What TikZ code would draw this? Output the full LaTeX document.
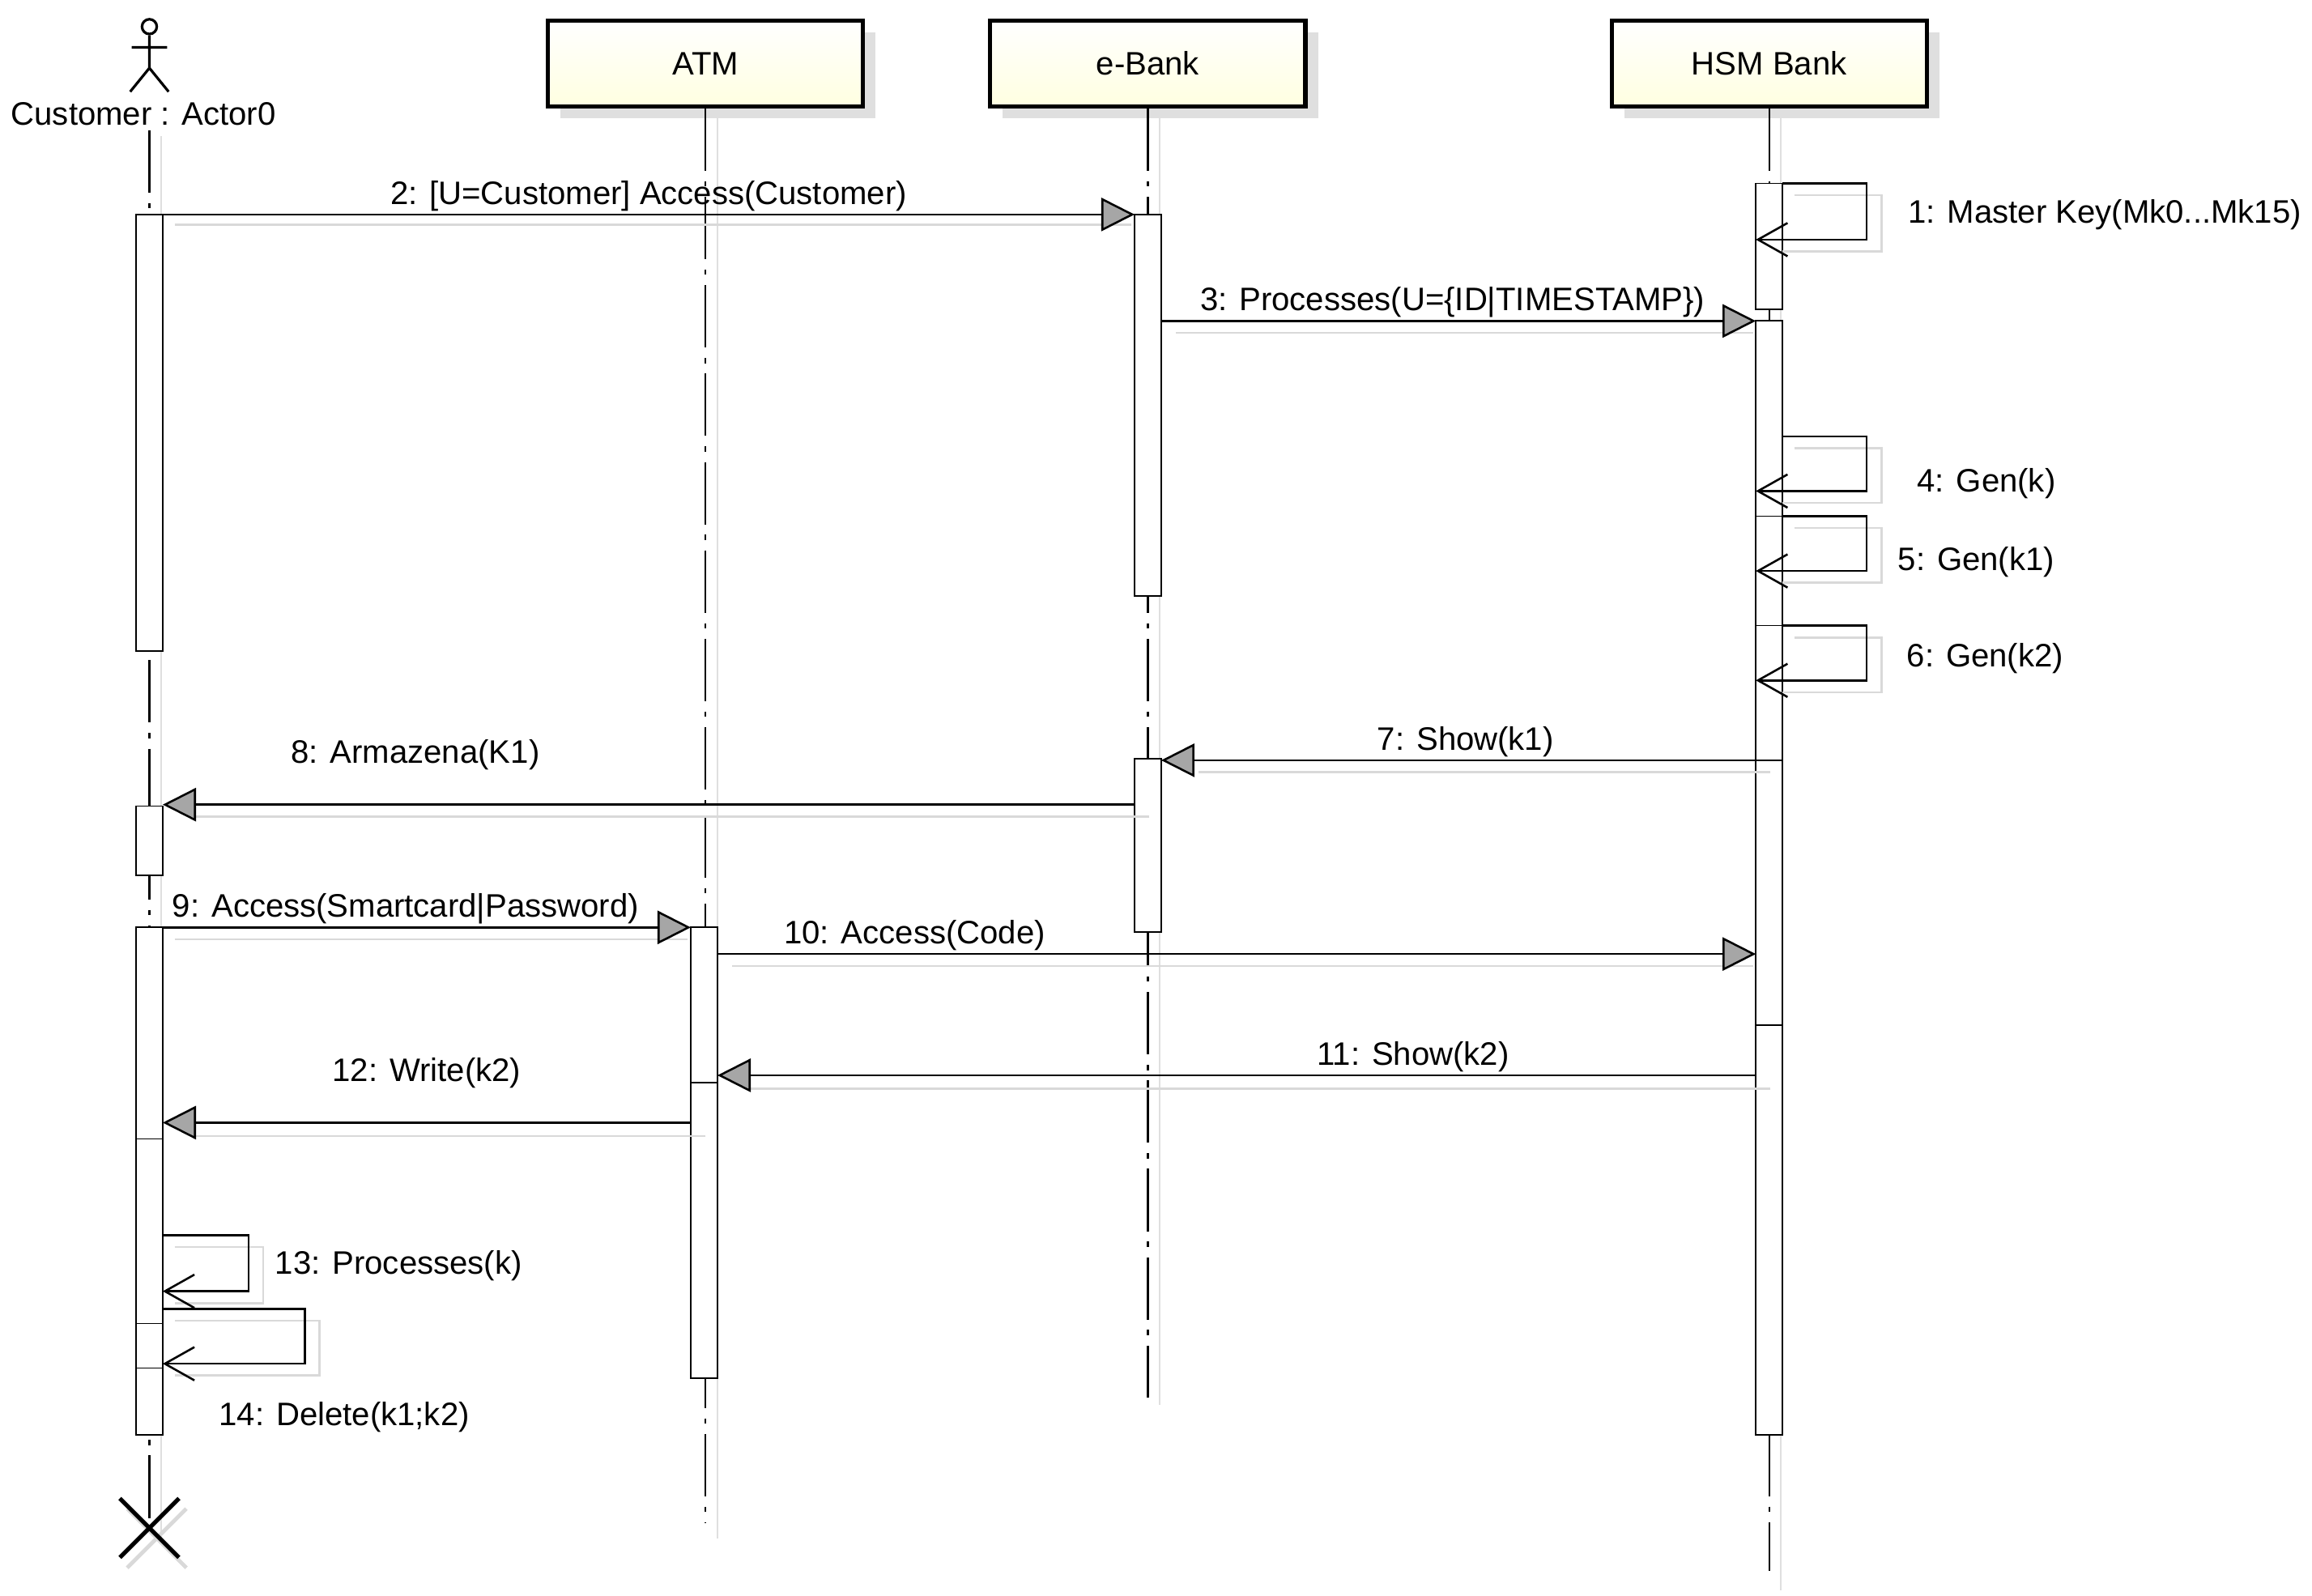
\documentclass[tikz,border=0pt]{standalone}
\usepackage{fontspec}
\setmainfont{Liberation Sans}
\usetikzlibrary{arrows.meta}
\begin{document}
\begin{tikzpicture}[x=0.02cm,y=-0.02cm,
  font=\fontsize{12.5}{14}\selectfont,
  life/.style={dash pattern=on 24pt off 4pt on 2pt off 4pt, line width=0.7pt},
  lifesh/.style={gray!25, line width=0.7pt},
  act/.style={draw, fill=white, line width=0.6pt},
  head/.style={draw, line width=1.6pt, top color=white, bottom color=yellow!12, minimum width=213*0.02cm, minimum height=58*0.02cm},
  msg/.style={line width=0.8pt, -{Triangle[length=0.45cm,width=0.45cm,fill=gray!70]}},
  msgsh/.style={gray!30, line width=0.8pt},
  self/.style={line width=0.8pt, -{Straight Barb[length=0.4cm,width=0.45cm]}},
  lbl/.style={inner sep=1pt}]
\useasboundingbox (0,0) rectangle (1563,1079);
% heads with shadows
\foreach \x/\n/\t in {477/atm/ATM,776/ebank/e-Bank,1196/hsm/HSM Bank}{
  \fill[gray!25] (\x-106+8,22) rectangle (\x+107+8,80);
}
\node[head] (atm) at (477,43) {ATM};
\node[head] (ebank) at (776,43) {e-Bank};
\node[head] (hsm) at (1196,43) {HSM Bank};
% actor
\node[draw, circle, line width=1pt, minimum size=0.2cm, inner sep=0pt] (ahead) at (101,18) {};
\draw[line width=1pt] (ahead.south) -- (101,46) (89,32) -- (113,32) (101,46) -- (88,62) (101,46) -- (114,62);
\node (actor) at (97,77) {Customer : Actor0};
% lifelines
\foreach \x/\a/\b in {109/92/1040, 485/80/1040, 784/80/950, 1204/80/1075}{\draw[lifesh] (\x,\a) -- (\x,\b);}
\coordinate (cend) at (101,1033);
\coordinate (aend) at (477,1030);
\coordinate (eend) at (776,945);
\coordinate (hend) at (1196,1062);
\draw[life] (101,88) -- (cend);
\draw[life] (atm.south) -- (aend);
\draw[life] (ebank.south) -- (eend);
\draw[life] (hsm.south) -- (hend);
% X
\node (xx) at (101,1033) {};
\draw[gray!30, line width=1.5pt] (86,1020) -- (126,1060) (126,1020) -- (86,1060);
\draw[line width=1.6pt] (81,1013) -- (121,1053) (121,1013) -- (81,1053);
% activations
\draw[act] (92,145) rectangle (110,440);
\draw[act] (92,545) rectangle (110,592);
\draw[act] (92,627) rectangle (110,970);
\draw (92,770) -- (110,770) (92,895) -- (110,895) (92,925) -- (110,925);
\draw[act] (467,627) rectangle (485,932);
\draw (467,732) -- (485,732);
\draw[act] (767,145) rectangle (785,403);
\draw[act] (767,513) rectangle (785,630);
\draw[act] (1187,124) rectangle (1205,209);
\draw[act] (1187,217) rectangle (1205,970);
\draw (1187,349) -- (1205,349) (1187,423) -- (1205,423) (1187,693) -- (1205,693);
% message shadows
\draw[msgsh] (118,152) -- (765,152);
\draw[msgsh] (795,225) -- (1185,225);
\draw[msgsh] (1197,522) -- (810,522);
\draw[msgsh] (777,552) -- (130,552);
\draw[msgsh] (118,635) -- (465,635);
\draw[msgsh] (495,653) -- (1185,653);
\draw[msgsh] (1197,736) -- (505,736);
\draw[msgsh] (477,768) -- (130,768);
\foreach \a/\b/\w in {124/162/1262, 295/332/1262, 349/386/1262, 423/460/1262}{
  \draw[msgsh] (1213,\a+8) -- (\w+10,\a+8) -- (\w+10,\b+8) -- (1205,\b+8);}
\draw[msgsh] (118,843) -- (178,843) -- (178,881) -- (118,881);
\draw[msgsh] (118,893) -- (216,893) -- (216,930) -- (118,930);
% messages
\draw[msg] (110,145) -- node[lbl, above] {2: [U=Customer] Access(Customer)} (767,145);
\draw[self] (1205,124) -- (1262,124) -- (1262,162) -- (1187,162);
\node[lbl, anchor=west] at (1288,145) {1: Master Key(Mk0...Mk15)};
\draw[msg] (785,217) -- node[lbl, above, pos=0.49] {3: Processes(U=\{ID|TIMESTAMP\})} (1187,217);
\draw[self] (1205,295) -- (1262,295) -- (1262,332) -- (1187,332);
\node[lbl, anchor=west] at (1294,327) {4: Gen(k)};
\draw[self] (1205,349) -- (1262,349) -- (1262,386) -- (1187,386);
\node[lbl, anchor=west] at (1281,380) {5: Gen(k1)};
\draw[self] (1205,423) -- (1262,423) -- (1262,460) -- (1187,460);
\node[lbl, anchor=west] at (1287,445) {6: Gen(k2)};
\draw[msg] (1205,514) -- node[lbl, above, pos=0.51] {7: Show(k1)} (785,514);
\draw[msg] (767,544) -- node[lbl, above=12pt, pos=0.74] {8: Armazena(K1)} (110,544);
\draw[msg] (110,627) -- node[lbl, above, pos=0.46] {9: Access(Smartcard|Password)} (467,627);
\draw[msg] (485,645) -- node[lbl, above, pos=0.19] {10: Access(Code)} (1187,645);
\draw[msg] (1187,727) -- node[lbl, above, pos=0.33] {11: Show(k2)} (485,727);
\draw[msg] (467,759) -- node[lbl, above=12pt, pos=0.5] {12: Write(k2)} (110,759);
\draw[self] (110,835) -- (168,835) -- (168,873) -- (110,873);
\node[lbl, anchor=west] at (184,856) {13: Processes(k)};
\draw[self] (110,885) -- (206,885) -- (206,922) -- (110,922);
\node[lbl, anchor=west] at (146,958) {14: Delete(k1;k2)};
\end{tikzpicture}
\end{document}
